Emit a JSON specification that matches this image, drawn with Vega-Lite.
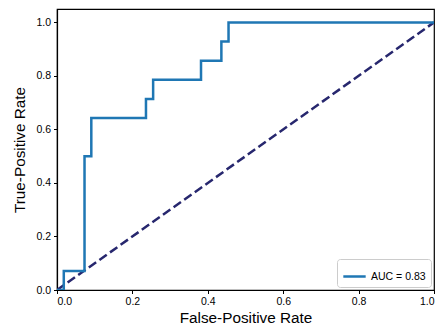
{
  "$schema": "https://vega.github.io/schema/vega-lite/v6.json",
  "width": 377,
  "height": 281,
  "autosize": {"type": "none"},
  "padding": {"left": 57, "top": 9, "right": 5, "bottom": 37},
  "config": {
    "font": "Liberation Sans",
    "view": {"stroke": "#000000", "strokeWidth": 1.2},
    "axis": {
      "grid": false,
      "domainColor": "#000000",
      "domainWidth": 1.2,
      "tickColor": "#000000",
      "tickSize": 3.5,
      "tickWidth": 1,
      "labelFontSize": 10.5,
      "labelColor": "#000000",
      "titleFontSize": 15.3,
      "titleFontWeight": "normal",
      "titleColor": "#000000",
      "labelPadding": 3
    }
  },
  "datasets": {
    "roc": [
      {"i": 0, "fpr": 0.0, "tpr": 0.0, "label": "AUC = 0.83"},
      {"i": 1, "fpr": 0.018, "tpr": 0.0, "label": "AUC = 0.83"},
      {"i": 2, "fpr": 0.018, "tpr": 0.071, "label": "AUC = 0.83"},
      {"i": 3, "fpr": 0.073, "tpr": 0.071, "label": "AUC = 0.83"},
      {"i": 4, "fpr": 0.073, "tpr": 0.5, "label": "AUC = 0.83"},
      {"i": 5, "fpr": 0.091, "tpr": 0.5, "label": "AUC = 0.83"},
      {"i": 6, "fpr": 0.091, "tpr": 0.643, "label": "AUC = 0.83"},
      {"i": 7, "fpr": 0.236, "tpr": 0.643, "label": "AUC = 0.83"},
      {"i": 8, "fpr": 0.236, "tpr": 0.714, "label": "AUC = 0.83"},
      {"i": 9, "fpr": 0.255, "tpr": 0.714, "label": "AUC = 0.83"},
      {"i": 10, "fpr": 0.255, "tpr": 0.786, "label": "AUC = 0.83"},
      {"i": 11, "fpr": 0.382, "tpr": 0.786, "label": "AUC = 0.83"},
      {"i": 12, "fpr": 0.382, "tpr": 0.857, "label": "AUC = 0.83"},
      {"i": 13, "fpr": 0.436, "tpr": 0.857, "label": "AUC = 0.83"},
      {"i": 14, "fpr": 0.436, "tpr": 0.929, "label": "AUC = 0.83"},
      {"i": 15, "fpr": 0.455, "tpr": 0.929, "label": "AUC = 0.83"},
      {"i": 16, "fpr": 0.455, "tpr": 1.0, "label": "AUC = 0.83"},
      {"i": 17, "fpr": 1.0, "tpr": 1.0, "label": "AUC = 0.83"}
    ],
    "diag": [
      {"i": 0, "fpr": 0.0, "tpr": 0.0},
      {"i": 1, "fpr": 1.0, "tpr": 1.0}
    ]
  },
  "layer": [
    {
      "data": {"name": "diag"},
      "mark": {"type": "line", "color": "#27276e", "strokeWidth": 2.5, "strokeDash": [9, 4], "clip": true},
      "encoding": {
        "x": {"field": "fpr", "type": "quantitative"},
        "y": {"field": "tpr", "type": "quantitative"},
        "order": {"field": "i"}
      }
    },
    {
      "data": {"name": "roc"},
      "mark": {"type": "line", "strokeWidth": 2.5, "clip": true},
      "encoding": {
        "x": {
          "field": "fpr",
          "type": "quantitative",
          "scale": {"domain": [0, 1], "nice": false, "zero": false},
          "axis": {"values": [0, 0.2, 0.4, 0.6, 0.8, 1.0], "format": ".1f", "title": "False-Positive Rate", "titlePadding": 3}
        },
        "y": {
          "field": "tpr",
          "type": "quantitative",
          "scale": {"domain": [0, 1.05], "nice": false, "zero": false},
          "axis": {"values": [0, 0.2, 0.4, 0.6, 0.8, 1.0], "format": ".1f", "title": "True-Positive Rate", "titlePadding": 8}
        },
        "order": {"field": "i"},
        "color": {
          "field": "label",
          "type": "nominal",
          "scale": {"range": ["#1f77b4"]},
          "legend": {
            "title": null,
            "orient": "bottom-right",
            "offset": 3,
            "symbolType": "stroke",
            "symbolSize": 500,
            "symbolStrokeWidth": 2.5,
            "labelFontSize": 10.5,
            "labelColor": "#000000",
            "strokeColor": "#cccccc",
            "fillColor": "#ffffff",
            "cornerRadius": 3,
            "padding": 5
          }
        }
      }
    }
  ]
}
